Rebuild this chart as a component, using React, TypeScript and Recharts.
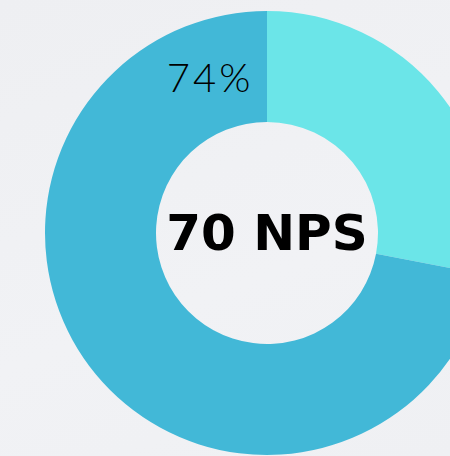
import { PieChart, Pie, Cell } from 'recharts'

const segments = ['Rest', 'Score']
const values = [28, 72]
const labels = ['', '74%']
const centerText = '70 NPS'

const C = {
  light: '#6BE5E8',
  dark:  '#42B8D7',
  text:  '#000000',
}

const RAD = Math.PI / 180

function SliceLabel(props: any) {
  const { cx, cy, innerRadius, outerRadius, endAngle, index } = props
  // center caption is drawn once, with the first slice
  if (index === 0) {
    return (
      <text x={cx} y={cy} fill={C.text} textAnchor="middle" dominantBaseline="central"
        style={{ fontFamily: '"DejaVu Sans", sans-serif', fontWeight: 700, fontSize: 50 }}>
        {centerText}
      </text>
    )
  }
  const text = labels[index]
  if (!text) return null
  const r = (innerRadius + outerRadius) / 2
  const a = endAngle + 380
  const x = cx + r * Math.cos(-a * RAD)
  const y = cy + r * Math.sin(-a * RAD)
  return (
    <text x={x} y={y} fill={C.text} textAnchor="middle" dominantBaseline="central"
      style={{ fontFamily: 'Lato, sans-serif', fontWeight: 300, fontSize: 40, letterSpacing: 3 }}>
      {text}
    </text>
  )
}

export default function App() {
  const data = segments.map((name, i) => ({ name, value: values[i] }))
  return (
    <div style={{
      position: 'absolute', left: 0, top: 0, width: 450, height: 456, overflow: 'hidden',
      background: 'linear-gradient(160deg, #EEEFF2 0%, #F1F2F5 60%, #EFF0F3 100%)',
    }}>
      <PieChart width={450} height={456} margin={{ top: 0, right: 0, bottom: 0, left: 0 }}>
        <Pie
          data={data}
          dataKey="value"
          cx={267}
          cy={233}
          innerRadius={111}
          outerRadius={222}
          startAngle={90}
          endAngle={-270}
          stroke="none"
          label={<SliceLabel />}
          labelLine={false}
          isAnimationActive={false}
        >
          <Cell fill={C.light} />
          <Cell fill={C.dark} />
        </Pie>
      </PieChart>
    </div>
  )
}
